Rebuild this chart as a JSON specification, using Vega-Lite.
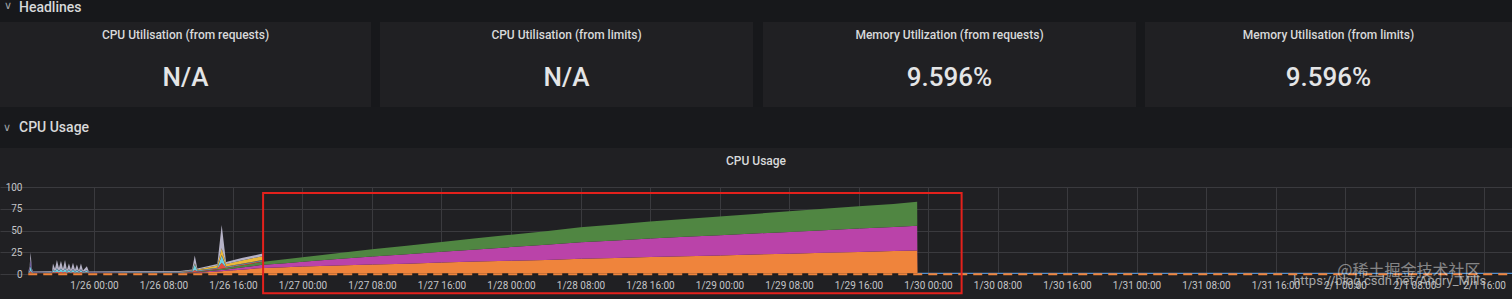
{
  "$schema": "https://vega.github.io/schema/vega-lite/v6.json",
  "background": "#202023",
  "padding": 0,
  "config": {
    "font": "Roboto",
    "view": {"stroke": null},
    "text": {"font": "Roboto"}
  },
  "spacing": 0,
  "vconcat": [
    {
      "width": 1512,
      "height": 22,
      "view": {"fill": "#17181b", "stroke": null},
      "data": {"values": [{"icon": "∨", "label": "Headlines"}]},
      "layer": [
        {"mark": {"type": "text", "align": "left", "baseline": "middle", "dx": -752, "dy": -5, "fontSize": 11, "color": "#9fa3a8"}, "encoding": {"text": {"field": "icon"}}},
        {"mark": {"type": "text", "align": "left", "baseline": "alphabetic", "dx": -737, "dy": 1, "fontSize": 14, "fontWeight": 500, "color": "#d8d9da"}, "encoding": {"text": {"field": "label"}}}
      ]
    },
    {
      "spacing": 0,
      "hconcat": [
        {
          "width": 371, "height": 85,
          "data": {"values": [{"title": "CPU Utilisation (from requests)", "value": "N/A"}]},
          "layer": [
            {"mark": {"type": "text", "baseline": "middle", "dy": -30, "fontSize": 12, "fontWeight": 500, "color": "#d8d9da"}, "encoding": {"text": {"field": "title"}}},
            {"mark": {"type": "text", "baseline": "middle", "dy": 13, "fontSize": 26, "fontWeight": 500, "color": "#e4e5e6"}, "encoding": {"text": {"field": "value"}}}
          ]
        },
        {"width": 9, "height": 85, "view": {"fill": "#17181b", "stroke": null}, "data": {"values": [{"t": " "}]}, "mark": "text", "encoding": {"text": {"field": "t"}}},
        {
          "width": 373, "height": 85,
          "data": {"values": [{"title": "CPU Utilisation (from limits)", "value": "N/A"}]},
          "layer": [
            {"mark": {"type": "text", "baseline": "middle", "dy": -30, "fontSize": 12, "fontWeight": 500, "color": "#d8d9da"}, "encoding": {"text": {"field": "title"}}},
            {"mark": {"type": "text", "baseline": "middle", "dy": 13, "fontSize": 26, "fontWeight": 500, "color": "#e4e5e6"}, "encoding": {"text": {"field": "value"}}}
          ]
        },
        {"width": 10, "height": 85, "view": {"fill": "#17181b", "stroke": null}, "data": {"values": [{"t": " "}]}, "mark": "text", "encoding": {"text": {"field": "t"}}},
        {
          "width": 373, "height": 85,
          "data": {"values": [{"title": "Memory Utilization (from requests)", "value": "9.596%"}]},
          "layer": [
            {"mark": {"type": "text", "baseline": "middle", "dy": -30, "fontSize": 12, "fontWeight": 500, "color": "#d8d9da"}, "encoding": {"text": {"field": "title"}}},
            {"mark": {"type": "text", "baseline": "middle", "dy": 13, "fontSize": 26, "fontWeight": 500, "color": "#e4e5e6"}, "encoding": {"text": {"field": "value"}}}
          ]
        },
        {"width": 9, "height": 85, "view": {"fill": "#17181b", "stroke": null}, "data": {"values": [{"t": " "}]}, "mark": "text", "encoding": {"text": {"field": "t"}}},
        {
          "width": 367, "height": 85,
          "data": {"values": [{"title": "Memory Utilisation (from limits)", "value": "9.596%"}]},
          "layer": [
            {"mark": {"type": "text", "baseline": "middle", "dy": -30, "fontSize": 12, "fontWeight": 500, "color": "#d8d9da"}, "encoding": {"text": {"field": "title"}}},
            {"mark": {"type": "text", "baseline": "middle", "dy": 13, "fontSize": 26, "fontWeight": 500, "color": "#e4e5e6"}, "encoding": {"text": {"field": "value"}}}
          ]
        }
      ]
    },
    {
      "width": 1512,
      "height": 41,
      "view": {"fill": "#18191c", "stroke": null},
      "data": {"values": [{"icon": "∨", "label": "CPU Usage"}]},
      "layer": [
        {"mark": {"type": "text", "align": "left", "baseline": "middle", "dx": -753, "dy": 0, "fontSize": 11, "color": "#9fa3a8"}, "encoding": {"text": {"field": "icon"}}},
        {"mark": {"type": "text", "align": "left", "baseline": "alphabetic", "dx": -737, "dy": 4, "fontSize": 14, "fontWeight": 500, "color": "#d8d9da"}, "encoding": {"text": {"field": "label"}}}
      ]
    },
    {
      "width": 1512,
      "height": 34,
      "data": {"values": [{"label": "CPU Usage"}]},
      "mark": {"type": "text", "baseline": "middle", "dy": -4, "fontSize": 12, "fontWeight": 500, "color": "#d8d9da"},
      "encoding": {"text": {"field": "label"}}
    },
    {
      "width": 1512,
      "height": 87,
      "encoding": {
        "x": {
          "field": "t", "type": "temporal", "title": null,
          "scale": {"domain": [{"year": 2021, "month": 1, "date": 25, "hours": 13, "minutes": 11}, {"year": 2021, "month": 2, "date": 1, "hours": 19, "minutes": 13}]},
          "axis": {
            "grid": true, "gridColor": "#3a3a3e", "domain": false, "ticks": false, "labelColor": "#c4c5c8", "labelFontSize": 10, "labelPadding": 6, "labelFlush": false, "labelOverlap": false, "format": "%-m/%-d %H:%M", "minExtent": 25,
            "values": [
              {"year": 2021, "month": 1, "date": 26, "hours": 0}, {"year": 2021, "month": 1, "date": 26, "hours": 8}, {"year": 2021, "month": 1, "date": 26, "hours": 16},
              {"year": 2021, "month": 1, "date": 27, "hours": 0}, {"year": 2021, "month": 1, "date": 27, "hours": 8}, {"year": 2021, "month": 1, "date": 27, "hours": 16},
              {"year": 2021, "month": 1, "date": 28, "hours": 0}, {"year": 2021, "month": 1, "date": 28, "hours": 8}, {"year": 2021, "month": 1, "date": 28, "hours": 16},
              {"year": 2021, "month": 1, "date": 29, "hours": 0}, {"year": 2021, "month": 1, "date": 29, "hours": 8}, {"year": 2021, "month": 1, "date": 29, "hours": 16},
              {"year": 2021, "month": 1, "date": 30, "hours": 0}, {"year": 2021, "month": 1, "date": 30, "hours": 8}, {"year": 2021, "month": 1, "date": 30, "hours": 16},
              {"year": 2021, "month": 1, "date": 31, "hours": 0}, {"year": 2021, "month": 1, "date": 31, "hours": 8}, {"year": 2021, "month": 1, "date": 31, "hours": 16},
              {"year": 2021, "month": 2, "date": 1, "hours": 0}, {"year": 2021, "month": 2, "date": 1, "hours": 8}, {"year": 2021, "month": 2, "date": 1, "hours": 16}
            ]
          }
        },
        "y": {
          "field": "v", "type": "quantitative", "title": null,
          "scale": {"domain": [0, 100]},
          "axis": {"grid": true, "gridColor": "#3a3a3e", "domain": false, "ticks": false, "values": [0, 25, 50, 75, 100], "labelColor": "#c4c5c8", "labelFontSize": 10, "labelPadding": 6, "offset": -28}
        }
      },
      "layer": [
        {
          "data": {"values": [
            {"t": "2021-01-25T16:27", "s1": 0.8, "s2": 0, "s3": 0, "s4": 0.5, "s5": 0.5, "s6": 0.4, "s7": 0, "s8": 0.8},
            {"t": "2021-01-25T16:36", "s1": 1, "s2": 0, "s3": 0, "s4": 0.8, "s5": 2, "s6": 3, "s7": 0, "s8": 2},
            {"t": "2021-01-25T16:42", "s1": 1.5, "s2": 0, "s3": 0, "s4": 2, "s5": 6, "s6": 8, "s7": 0, "s8": 7.5},
            {"t": "2021-01-25T16:51", "s1": 1, "s2": 0, "s3": 0, "s4": 0.8, "s5": 1.5, "s6": 1.5, "s7": 0, "s8": 1.5},
            {"t": "2021-01-25T17:00", "s1": 0.8, "s2": 0, "s3": 0, "s4": 0.5, "s5": 0.5, "s6": 0.4, "s7": 0, "s8": 0.8},
            {"t": "2021-01-25T19:00", "s1": 0.9, "s2": 0, "s3": 0, "s4": 0.5, "s5": 0.5, "s6": 0.4, "s7": 0, "s8": 0.8},
            {"t": "2021-01-25T19:10", "s1": 0.8, "s2": 0, "s3": 0, "s4": 0.5, "s5": 0.5, "s6": 0.4, "s7": 0, "s8": 0.8},
            {"t": "2021-01-25T19:17", "s1": 0.8, "s2": 0, "s3": 0, "s4": 1.4, "s5": 2.75, "s6": 0.4, "s7": 0, "s8": 6.65},
            {"t": "2021-01-25T19:31", "s1": 0.8, "s2": 0, "s3": 0, "s4": 0.8, "s5": 1.25, "s6": 0.4, "s7": 0, "s8": 2.75},
            {"t": "2021-01-25T19:44", "s1": 0.8, "s2": 0, "s3": 0, "s4": 1.8, "s5": 3.75, "s6": 0.4, "s7": 0, "s8": 9.25},
            {"t": "2021-01-25T19:58", "s1": 0.8, "s2": 0, "s3": 0, "s4": 0.9, "s5": 1.5, "s6": 0.4, "s7": 0, "s8": 3.4},
            {"t": "2021-01-25T20:12", "s1": 0.8, "s2": 0, "s3": 0, "s4": 1.7, "s5": 3.5, "s6": 0.4, "s7": 0, "s8": 8.6},
            {"t": "2021-01-25T20:26", "s1": 0.8, "s2": 0, "s3": 0, "s4": 0.8, "s5": 1.25, "s6": 0.4, "s7": 0, "s8": 2.75},
            {"t": "2021-01-25T20:40", "s1": 0.8, "s2": 0, "s3": 0, "s4": 1.8, "s5": 3.75, "s6": 0.4, "s7": 0, "s8": 9.25},
            {"t": "2021-01-25T20:53", "s1": 0.8, "s2": 0, "s3": 0, "s4": 0.7, "s5": 1, "s6": 0.4, "s7": 0, "s8": 2.1},
            {"t": "2021-01-25T21:07", "s1": 0.8, "s2": 0, "s3": 0, "s4": 1.4, "s5": 2.75, "s6": 0.4, "s7": 0, "s8": 6.65},
            {"t": "2021-01-25T21:21", "s1": 0.8, "s2": 0, "s3": 0, "s4": 0.7, "s5": 1, "s6": 0.4, "s7": 0, "s8": 2.1},
            {"t": "2021-01-25T21:35", "s1": 0.8, "s2": 0, "s3": 0, "s4": 1.5, "s5": 3, "s6": 0.4, "s7": 0, "s8": 7.3},
            {"t": "2021-01-25T21:49", "s1": 0.8, "s2": 0, "s3": 0, "s4": 0.7, "s5": 1, "s6": 0.4, "s7": 0, "s8": 2.1},
            {"t": "2021-01-25T22:02", "s1": 0.8, "s2": 0, "s3": 0, "s4": 1.3, "s5": 2.5, "s6": 0.4, "s7": 0, "s8": 6},
            {"t": "2021-01-25T22:16", "s1": 0.8, "s2": 0, "s3": 0, "s4": 0.6, "s5": 0.75, "s6": 0.4, "s7": 0, "s8": 1.45},
            {"t": "2021-01-25T22:30", "s1": 0.8, "s2": 0, "s3": 0, "s4": 1.4, "s5": 2.75, "s6": 0.4, "s7": 0, "s8": 6.65},
            {"t": "2021-01-25T22:44", "s1": 0.8, "s2": 0, "s3": 0, "s4": 0.6, "s5": 0.75, "s6": 0.4, "s7": 0, "s8": 1.45},
            {"t": "2021-01-25T23:11", "s1": 0.8, "s2": 0, "s3": 0, "s4": 1.1, "s5": 2, "s6": 0.4, "s7": 0, "s8": 4.7},
            {"t": "2021-01-25T23:25", "s1": 0.8, "s2": 0, "s3": 0, "s4": 0.5, "s5": 0.5, "s6": 0.4, "s7": 0, "s8": 0.8},
            {"t": "2021-01-26T04:00", "s1": 0.8, "s2": 0, "s3": 0, "s4": 0.5, "s5": 0.6, "s6": 0.4, "s7": 0, "s8": 0.8},
            {"t": "2021-01-26T09:54", "s1": 0.8, "s2": 0.1, "s3": 0.1, "s4": 0.5, "s5": 0.5, "s6": 0.4, "s7": 0.2, "s8": 0.8},
            {"t": "2021-01-26T11:18", "s1": 1.3, "s2": 0.4, "s3": 0.4, "s4": 0.6, "s5": 0.6, "s6": 0.4, "s7": 0.6, "s8": 0.9},
            {"t": "2021-01-26T11:36", "s1": 1.4, "s2": 0.5, "s3": 0.5, "s4": 2.1, "s5": 6.6, "s6": 0.4, "s7": 0.8, "s8": 8.9},
            {"t": "2021-01-26T11:54", "s1": 1.5, "s2": 0.6, "s3": 0.6, "s4": 0.6, "s5": 0.6, "s6": 0.4, "s7": 0.9, "s8": 1},
            {"t": "2021-01-26T14:12", "s1": 3, "s2": 1.3, "s3": 1.3, "s4": 0.7, "s5": 0.6, "s6": 0.4, "s7": 2.5, "s8": 1.8},
            {"t": "2021-01-26T14:42", "s1": 3.3, "s2": 1.4, "s3": 1.4, "s4": 6.7, "s5": 8.6, "s6": 0.4, "s7": 7.7, "s8": 26.8},
            {"t": "2021-01-26T15:12", "s1": 3.6, "s2": 1.6, "s3": 1.6, "s4": 0.8, "s5": 0.6, "s6": 0.4, "s7": 3, "s8": 2.3},
            {"t": "2021-01-26T17:00", "s1": 5, "s2": 2.4, "s3": 2.4, "s4": 0.9, "s5": 0.6, "s6": 0.4, "s7": 3.8, "s8": 2.8},
            {"t": "2021-01-26T19:24", "s1": 7, "s2": 3.5, "s3": 3.5, "s4": 1, "s5": 0.6, "s6": 0.4, "s7": 4.5, "s8": 3},
            {"t": "2021-01-26T19:30", "s1": 7, "s2": 3.5, "s3": 3.5, "s4": 0, "s5": 0, "s6": 0, "s7": 0, "s8": 0},
            {"t": "2021-01-26T22:00", "s1": 7.9, "s2": 4.5, "s3": 4.6, "s4": 0, "s5": 0, "s6": 0, "s7": 0, "s8": 0},
            {"t": "2021-01-27T00:00", "s1": 8.5, "s2": 5.5, "s3": 5.2, "s4": 0, "s5": 0, "s6": 0, "s7": 0, "s8": 0},
            {"t": "2021-01-27T04:00", "s1": 9.8, "s2": 7.3, "s3": 6.7, "s4": 0, "s5": 0, "s6": 0, "s7": 0, "s8": 0},
            {"t": "2021-01-27T08:00", "s1": 11, "s2": 9, "s3": 8.4, "s4": 0, "s5": 0, "s6": 0, "s7": 0, "s8": 0},
            {"t": "2021-01-27T12:00", "s1": 11.9, "s2": 10.8, "s3": 9.8, "s4": 0, "s5": 0, "s6": 0, "s7": 0, "s8": 0},
            {"t": "2021-01-27T16:00", "s1": 13.1, "s2": 12.4, "s3": 11.3, "s4": 0, "s5": 0, "s6": 0, "s7": 0, "s8": 0},
            {"t": "2021-01-27T20:00", "s1": 14.3, "s2": 13.9, "s3": 12.9, "s4": 0, "s5": 0, "s6": 0, "s7": 0, "s8": 0},
            {"t": "2021-01-28T00:00", "s1": 15.3, "s2": 15.6, "s3": 14.3, "s4": 0, "s5": 0, "s6": 0, "s7": 0, "s8": 0},
            {"t": "2021-01-28T04:00", "s1": 16.2, "s2": 17.4, "s3": 15.6, "s4": 0, "s5": 0, "s6": 0, "s7": 0, "s8": 0},
            {"t": "2021-01-28T08:00", "s1": 17.4, "s2": 19, "s3": 17.2, "s4": 0, "s5": 0, "s6": 0, "s7": 0, "s8": 0},
            {"t": "2021-01-28T12:00", "s1": 18.5, "s2": 20.1, "s3": 18.3, "s4": 0, "s5": 0, "s6": 0, "s7": 0, "s8": 0},
            {"t": "2021-01-28T16:00", "s1": 19.4, "s2": 21.4, "s3": 19.5, "s4": 0, "s5": 0, "s6": 0, "s7": 0, "s8": 0},
            {"t": "2021-01-28T20:00", "s1": 20.3, "s2": 22.4, "s3": 20.6, "s4": 0, "s5": 0, "s6": 0, "s7": 0, "s8": 0},
            {"t": "2021-01-29T00:00", "s1": 21.4, "s2": 23.2, "s3": 21.5, "s4": 0, "s5": 0, "s6": 0, "s7": 0, "s8": 0},
            {"t": "2021-01-29T04:00", "s1": 22.5, "s2": 24, "s3": 22.5, "s4": 0, "s5": 0, "s6": 0, "s7": 0, "s8": 0},
            {"t": "2021-01-29T08:00", "s1": 23.4, "s2": 25, "s3": 23.7, "s4": 0, "s5": 0, "s6": 0, "s7": 0, "s8": 0},
            {"t": "2021-01-29T12:00", "s1": 24.3, "s2": 26.1, "s3": 24.6, "s4": 0, "s5": 0, "s6": 0, "s7": 0, "s8": 0},
            {"t": "2021-01-29T16:00", "s1": 25.3, "s2": 26.9, "s3": 25.8, "s4": 0, "s5": 0, "s6": 0, "s7": 0, "s8": 0},
            {"t": "2021-01-29T20:00", "s1": 26.3, "s2": 27.7, "s3": 26.6, "s4": 0, "s5": 0, "s6": 0, "s7": 0, "s8": 0},
            {"t": "2021-01-29T22:45", "s1": 27, "s2": 28.5, "s3": 27.5, "s4": 0, "s5": 0, "s6": 0, "s7": 0, "s8": 0},
            {"t": "2021-01-29T22:48", "s1": 0, "s2": 0, "s3": 0, "s4": 0, "s5": 0, "s6": 0, "s7": 0, "s8": 0},
            {"t": "2021-02-01T19:13", "s1": 0, "s2": 0, "s3": 0, "s4": 0, "s5": 0, "s6": 0, "s7": 0, "s8": 0}
          ]},
          "transform": [{"fold": ["s1", "s2", "s3", "s4", "s5", "s6", "s7", "s8"], "as": ["series", "v"]}],
          "mark": {"type": "area", "clip": true},
          "encoding": {
            "color": {
              "field": "series", "type": "nominal", "legend": null,
              "scale": {"domain": ["s1", "s2", "s3", "s4", "s5", "s6", "s7", "s8"], "range": ["#EF843C", "#BA43A9", "#508642", "#E24D42", "#6ED0E0", "#705DA0", "#EAB839", "#B5B2C6"]}
            },
            "order": {"field": "series", "type": "ordinal", "sort": "ascending"}
          }
        },
        {
          "data": {"values": [{"t": "2021-01-25T16:26", "v": -0.4}, {"t": "2021-02-01T19:13", "v": -0.4}]},
          "mark": {"type": "line", "color": "#1c1c1f", "strokeWidth": 2},
          "encoding": {}
        },
        {
          "data": {"values": [{"t": "2021-01-29T22:48", "v": 0.8}, {"t": "2021-02-01T19:13", "v": 0.8}]},
          "mark": {"type": "line", "color": "#4f8ecf", "strokeWidth": 1.2},
          "encoding": {}
        },
        {
          "data": {"values": [{"t": "2021-01-25T16:26", "v": -0.4}, {"t": "2021-02-01T19:13", "v": -0.4}]},
          "mark": {"type": "line", "color": "#EF843C", "strokeWidth": 2, "strokeDash": [9, 6]},
          "encoding": {}
        },
        {
          "data": {"values": [{"t": "2021-01-26T19:28", "t2": "2021-01-30T03:52", "v": 93, "v2": -22}]},
          "mark": {"type": "rect", "filled": false, "color": "#e3211c", "strokeWidth": 2},
          "encoding": {"x2": {"field": "t2"}, "y2": {"field": "v2"}}
        },
        {
          "data": {"values": [{"t": "2021-01-31T23:07", "v": 3.4, "txt": "@稀土掘金技术社区"}]},
          "mark": {"type": "text", "align": "left", "baseline": "middle", "font": "Noto Sans CJK SC", "fontSize": 16, "color": "#ffffff", "opacity": 0.45},
          "encoding": {"text": {"field": "txt"}}
        },
        {
          "data": {"values": [{"t": "2021-01-31T18:02", "v": -8, "txt": "https://blog.csdn.net/Angry_Mills"}]},
          "mark": {"type": "text", "align": "left", "baseline": "middle", "font": "Roboto", "fontSize": 13, "color": "#d0d0d0", "opacity": 0.75},
          "encoding": {"text": {"field": "txt"}}
        }
      ]
    }
  ]
}
